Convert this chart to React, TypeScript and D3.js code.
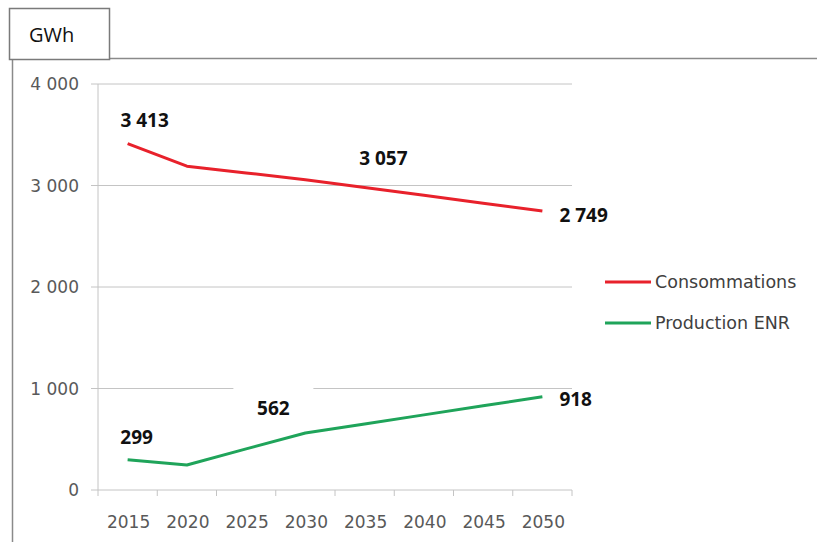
import React from "react";
import * as d3 from "d3";

const years = ["2015", "2020", "2025", "2030", "2035", "2040", "2045", "2050"];
const consommations = [3413, 3190, 3124, 3057, 2980, 2903, 2826, 2749];
const productionENR = [299, 246, 405, 562, 651, 740, 829, 918];
const yTicks = [0, 1000, 2000, 3000, 4000];
const seriesNames = ["Consommations", "Production ENR"];
const seriesColors = ["#e8212b", "#1fa45a"];
const unitLabel = "GWh";

const fmt = (v: number) => d3.format(",")(v).replace(/,/g, " ");

export default function App() {
  const W = 817, H = 542;
  const x = d3.scaleBand().domain(years).range([98, 572]);
  const y = d3.scaleLinear().domain([0, 4000]).range([490, 84]);
  const cx = (i: number) => (x(years[i]) as number) + x.bandwidth() / 2;
  const line = d3.line<number>().x((_, i) => cx(i)).y((d) => y(d));
  const series = [consommations, productionENR];
  const tickFont = "'DejaVu Sans', sans-serif";
  const labFont = "'Open Sans', sans-serif";
  const edges = years.map((yr) => x(yr) as number).concat([572]);

  // data labels: [series, index, dx, dy(baseline), anchor, withBg]
  const labels: [number, number, number, number, string, boolean][] = [
    [0, 0, 17, -17, "middle", false],
    [0, 3, 78, -15, "middle", false],
    [0, 7, 17, 11, "start", false],
    [1, 0, 9, -16, "middle", false],
    [1, 3, -32, -18, "middle", true],
    [1, 7, 17, 9, "start", false],
  ];

  return (
    <svg width={W} height={H} style={{ position: "absolute", left: 0, top: 0, background: "#fff" }}>
      <rect x={12.5} y={58.5} width={820} height={500} fill="#fff" stroke="#8a8a8a" strokeWidth={1.5} />
      <rect x={9.5} y={8.5} width={100} height={51} fill="#fff" stroke="#7a7a7a" strokeWidth={1.5} />
      <text x={29} y={42} fontFamily={labFont} fontSize={20} fill="#111">{unitLabel}</text>

      {yTicks.map((t) => (
        <g key={t}>
          {t > 0 && <line x1={98} x2={572} y1={y(t)} y2={y(t)} stroke="#c4c4c4" strokeWidth={1} />}
          <line x1={91} x2={98} y1={y(t)} y2={y(t)} stroke="#c4c4c4" strokeWidth={1} />
          <text x={79} y={y(t) + 6} textAnchor="end" fontFamily={tickFont} fontSize={17} fill="#595959">
            {fmt(t)}
          </text>
        </g>
      ))}
      <line x1={98} x2={98} y1={y(4000)} y2={y(0)} stroke="#c4c4c4" strokeWidth={1} />
      <line x1={98} x2={572} y1={y(0)} y2={y(0)} stroke="#c4c4c4" strokeWidth={1} />
      {edges.map((e, i) => (
        <line key={i} x1={e} x2={e} y1={y(0)} y2={y(0) + 6} stroke="#c4c4c4" strokeWidth={1} />
      ))}
      {years.map((yr, i) => (
        <text key={yr} x={cx(i) + 1} y={528} textAnchor="middle" fontFamily={tickFont} fontSize={17} fill="#595959">
          {yr}
        </text>
      ))}

      {series.map((s, k) => (
        <path key={k} d={line(s) as string} fill="none" stroke={seriesColors[k]} strokeWidth={3} strokeLinejoin="round" />
      ))}

      {labels.map(([k, i, dx, dy, anchor, bg], n) => {
        const v = series[k][i];
        const lx = cx(i) + dx, ly = y(v) + dy;
        return (
          <g key={n}>
            {bg && <rect x={lx - 40} y={ly - 34} width={80} height={44} fill="#fff" />}
            <text x={lx} y={ly} textAnchor={anchor as any} fontFamily={labFont} fontWeight="bold" fontSize={19} fill="#111">
              {fmt(v)}
            </text>
          </g>
        );
      })}

      {seriesNames.map((name, k) => (
        <g key={name} transform={`translate(0, ${282 + k * 41})`}>
          <line x1={605} x2={651} y1={0} y2={0} stroke={seriesColors[k]} strokeWidth={3} />
          <text x={655} y={6} fontFamily={tickFont} fontSize={17.5} fill="#404040">{name}</text>
        </g>
      ))}
    </svg>
  );
}
